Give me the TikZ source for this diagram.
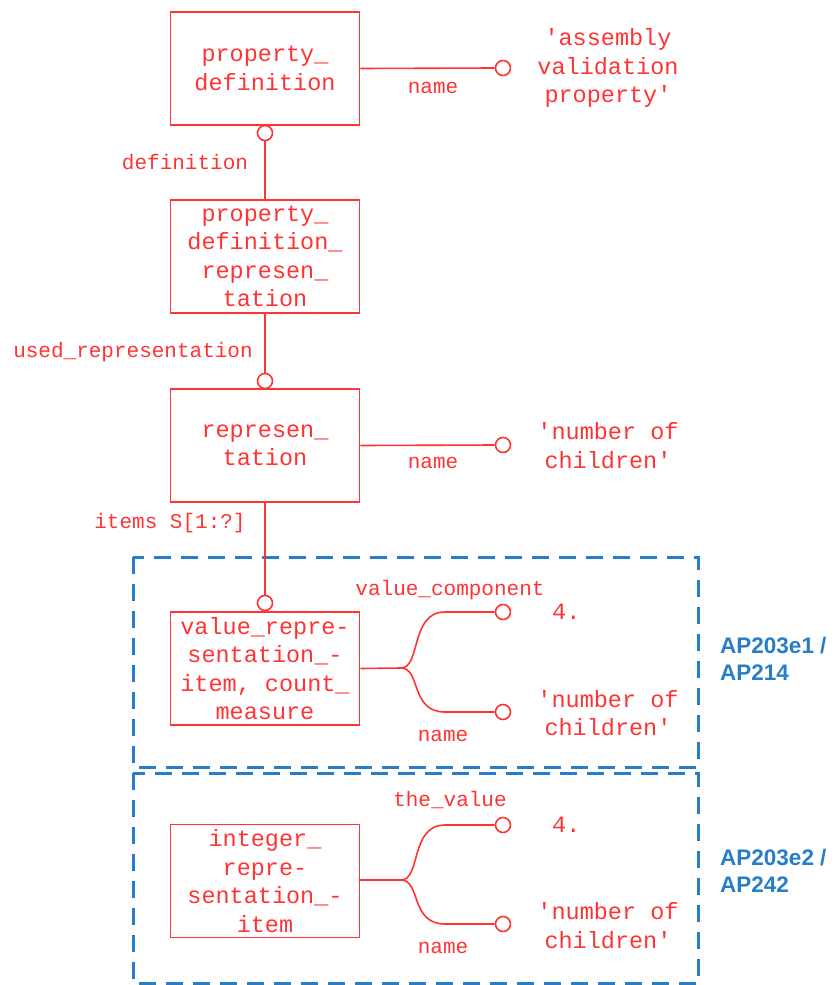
\documentclass[tikz,border=0pt]{standalone}
\usepackage{fontspec}
\setmonofont{Liberation Mono}
\setsansfont{Liberation Sans}
\definecolor{ered}{RGB}{255,51,51}
\definecolor{eblue}{RGB}{40,125,200}
\begin{document}
\begin{tikzpicture}[x=1pt,y=-1pt,
  ent/.style={draw=ered,line width=1.6pt,minimum width=189pt,minimum height=113pt,inner sep=0pt,
    align=center,text=ered,font=\fontsize{23.5}{28.5}\selectfont\ttfamily},
  val/.style={text=ered,align=center,inner sep=0pt,font=\fontsize{23.5}{28.5}\selectfont\ttfamily},
  lab/.style={text=ered,inner sep=0pt,font=\fontsize{21}{24}\selectfont\ttfamily},
  ring/.style={circle,draw=ered,line width=1.6pt,fill=white,minimum size=15pt,inner sep=0pt},
  conn/.style={draw=ered,line width=1.6pt},
  grp/.style={draw=eblue,line width=3pt,dash pattern=on 17pt off 10pt},
  ap/.style={text=eblue,align=left,anchor=west,inner sep=0pt,font=\fontsize{22.5}{27.5}\selectfont\sffamily\bfseries}]
\useasboundingbox (0,0) rectangle (835,985);
% group boxes
\draw[grp] (133,557) rectangle (698,767);
\draw[grp] (133,773) rectangle (698,983.5);
\node[ap] (ap1) at (720,659) {AP203e1 /\\AP214};
\node[ap] (ap2) at (720,871) {AP203e2 /\\AP242};
% entities
\node[ent] (b1) at (265,68.5) {property\_\\definition};
\node[ent] (b2) at (265,256.5) {property\_\\definition\_\\represen\_\\tation};
\node[ent] (b3) at (265,445.5) {represen\_\\tation};
\node[ent] (b4) at (265,668.5) {value\_repre-\\sentation\_-\\item, count\_\\measure};
\node[ent] (b5) at (265,881) {integer\_\\repre-\\sentation\_-\\item};
% rings
\node[ring] (c1) at (265,133) {};
\node[ring] (c2) at (265,381) {};
\node[ring] (c3) at (265,603) {};
\node[ring] (r1) at (503,68) {};
\node[ring] (r2) at (503,445) {};
\node[ring] (r3) at (503,612) {};
\node[ring] (r4) at (503,712) {};
\node[ring] (r5) at (503,825) {};
\node[ring] (r6) at (503,924) {};
% vertical connectors
\draw[conn] (c1.south) -- (b2.north);
\draw[conn] (b2.south) -- (c2.north);
\draw[conn] (b3.south) -- (c3.north);
% horizontal connectors
\draw[conn] (b1.east) -- (r1.west);
\draw[conn] (b3.east) -- (r2.west);
\coordinate (j1) at (401,668);
\coordinate (j2) at (401,880);
\draw[conn] (b4.east) -- (j1);
\draw[conn] (j1) .. controls (421,668) and (410,612) .. (445,612) -- (r3.west);
\draw[conn] (j1) .. controls (421,668) and (410,712) .. (445,712) -- (r4.west);
\draw[conn] (b5.east |- j2) -- (j2);
\draw[conn] (j2) .. controls (421,880) and (410,825) .. (445,825) -- (r5.west);
\draw[conn] (j2) .. controls (421,880) and (410,924) .. (445,924) -- (r6.west);
% values
\node[val] (v1) at (608,68) {'assembly\\validation\\property'};
\node[val] (v2) at (608,445.5) {'number of\\children'};
\node[val,anchor=west] (v3) at (552,612) {4.};
\node[val] (v4) at (608,713) {'number of\\children'};
\node[val,anchor=west] (v5) at (552,825) {4.};
\node[val] (v6) at (608,925.5) {'number of\\children'};
% role labels
\node[lab] (l1) at (433,88) {name};
\node[lab] (l2) at (185,162) {definition};
\node[lab] (l3) at (133,352) {used\_representation};
\node[lab] (l4) at (433,463) {name};
\node[lab] (l5) at (170,523) {items S[1:?]};
\node[lab] (l6) at (450,590) {value\_component};
\node[lab] (l7) at (443,736) {name};
\node[lab] (l8) at (450,800) {the\_value};
\node[lab] (l9) at (443,948) {name};
\end{tikzpicture}
\end{document}
